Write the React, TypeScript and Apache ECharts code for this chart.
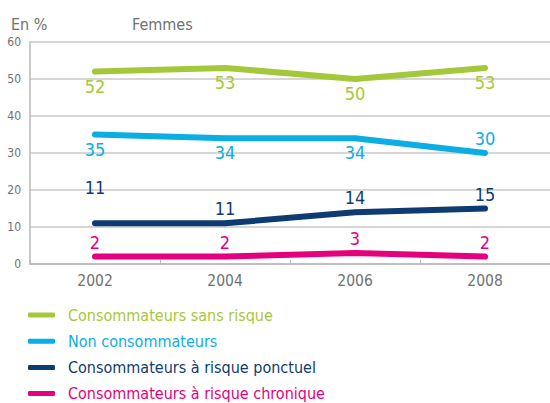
import React, { useEffect, useRef } from "react";
import * as echarts from "echarts";

const years = ["2002", "2004", "2006", "2008"];
const sansRisque = [52, 53, 50, 53];
const nonConso = [35, 34, 34, 30];
const ponctuel = [11, 11, 14, 15];
const chronique = [2, 2, 3, 2];

const names = [
  "Consommateurs sans risque",
  "Non consommateurs",
  "Consommateurs à risque ponctuel",
  "Consommateurs à risque chronique",
];
const colors = ["#a5c83b", "#0aaee4", "#0f3b73", "#e5007d"];

const blueLabelPos = ["bottom", "bottom", "bottom", "top"];

const FONT = "'DejaVu Sans Condensed', 'Liberation Sans', sans-serif";
const GRAY = "#707172";

export default function App() {
  const ref = useRef<HTMLDivElement>(null);
  useEffect(() => {
    if (!ref.current) return;
    const chart = echarts.init(ref.current, undefined, { renderer: "svg" });

    const mk = (i: number, vals: number[], pos: (j: number) => string, extra?: (j: number) => any) => ({
      name: names[i],
      type: "line",
      data: vals.map((v, j) => ({
        value: v,
        label: { position: pos(j), ...(extra ? extra(j) : {}) },
      })),
      symbol: "circle",
      symbolSize: 5,
      showSymbol: true,
      itemStyle: { color: colors[i] },
      lineStyle: { color: colors[i], width: 6, cap: "round", join: "round" },
      label: {
        show: true,
        color: colors[i],
        fontFamily: FONT,
        fontSize: 18,
        distance: 3,
      },
      emphasis: { disabled: true },
      z: 10 - i,
    });

    chart.setOption({
      animation: false,
      textStyle: { fontFamily: FONT },
      title: [
        { text: "En %", left: 6, top: 11, textStyle: { fontFamily: FONT, fontSize: 16, color: GRAY, fontWeight: "normal" } },
        { text: "Femmes", left: 127, top: 11, textStyle: { fontFamily: FONT, fontSize: 16, color: GRAY, fontWeight: "normal" } },
      ],
      grid: { left: 30, right: 0, top: 42, bottom: 139 },
      xAxis: {
        type: "category",
        data: years,
        boundaryGap: true,
        axisLine: { lineStyle: { color: "#b8b8b8", width: 1.5 } },
        axisTick: { show: true, inside: true, length: 4, lineStyle: { color: "#b8b8b8" } },
        axisLabel: { color: GRAY, fontSize: 15.5, fontFamily: FONT, margin: 9 },
      },
      yAxis: {
        type: "value",
        min: 0,
        max: 60,
        interval: 10,
        axisLine: { show: true, lineStyle: { color: "#b8b8b8", width: 1.5 } },
        axisTick: { show: false },
        axisLabel: { color: GRAY, fontSize: 12, fontFamily: FONT, margin: 9, padding: [6, 0, 0, 0] },
        splitLine: { lineStyle: { color: "#c8c8c8", width: 1.5 } },
      },
      legend: {
        orient: "vertical",
        left: 28,
        top: 306,
        padding: 0,
        height: 100,
        itemWidth: 27,
        itemHeight: 5,
        itemGap: 8.2,
        icon: "roundRect",
        selectedMode: false,
        textStyle: { fontSize: 16, fontFamily: FONT, lineHeight: 18, padding: [0, 0, 0, 8] },
        data: names.map((n, i) => ({ name: n, textStyle: { color: colors[i] } })),
      },
      series: [
        mk(0, sansRisque, () => "bottom"),
        mk(1, nonConso, (j) => blueLabelPos[j]),
        mk(2, ponctuel, () => "top", (j) => (j === 0 ? { offset: [0, -21] } : {})),
        mk(3, chronique, () => "top"),
      ],
    });
    return () => chart.dispose();
  }, []);
  return <div ref={ref} style={{ width: 550, height: 403, position: "absolute", left: 0, top: 0 }} />;
}
